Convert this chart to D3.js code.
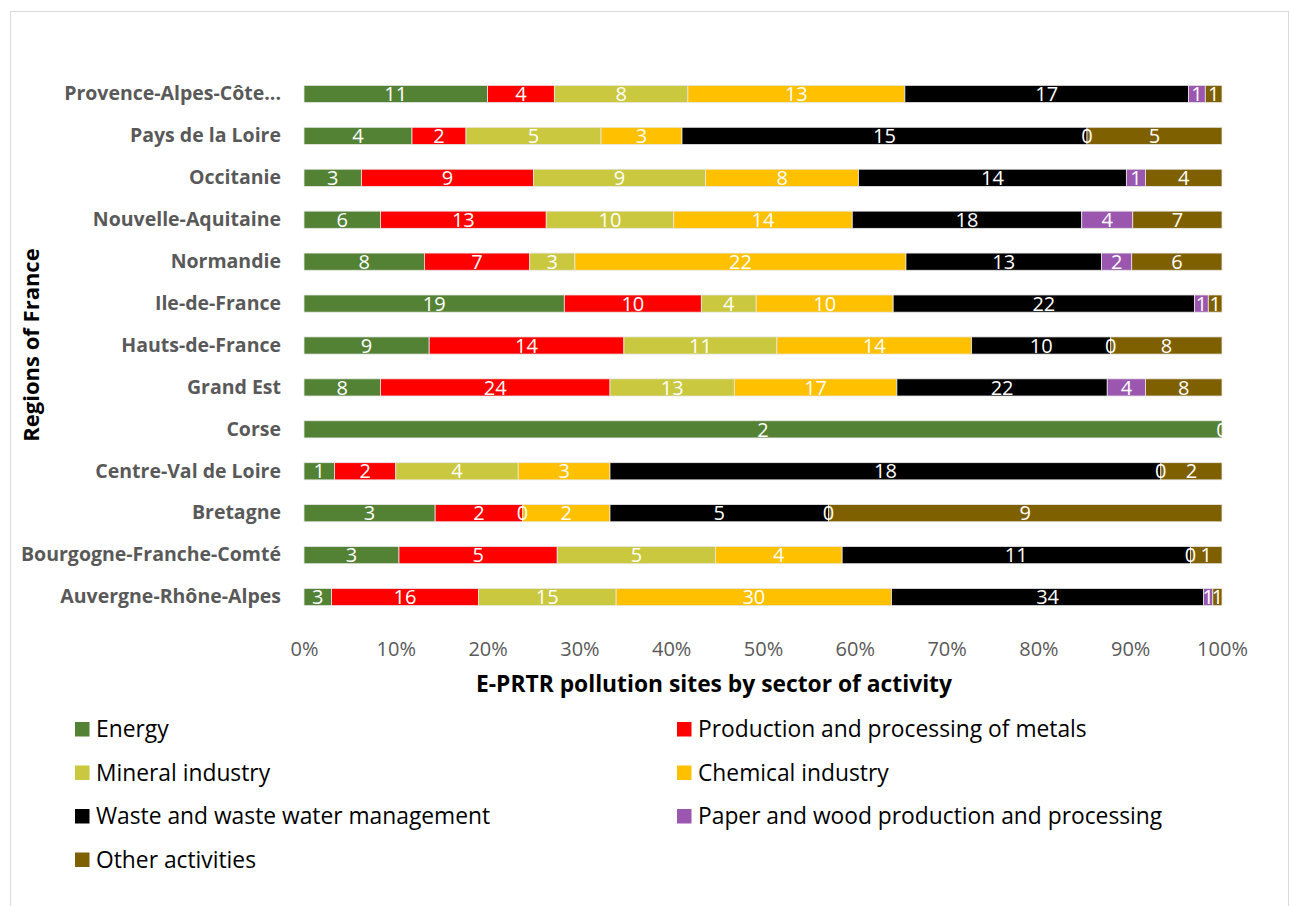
<!DOCTYPE html>
<html>
<head>
<meta charset="utf-8">
<script src="https://cdn.jsdelivr.net/npm/d3@7"></script>
<style>
  body { margin: 0; background: #fff; }
  svg text { font-family: "Open Sans", sans-serif; }
</style>
</head>
<body>
<svg width="1290" height="906"></svg>
<script>
const regions = ['Provence-Alpes-Côte...', 'Pays de la Loire', 'Occitanie', 'Nouvelle-Aquitaine',
  'Normandie', 'Ile-de-France', 'Hauts-de-France', 'Grand Est', 'Corse', 'Centre-Val de Loire',
  'Bretagne', 'Bourgogne-Franche-Comté', 'Auvergne-Rhône-Alpes'];

const sectors = ['Energy', 'Production and processing of metals', 'Mineral industry',
  'Chemical industry', 'Waste and waste water management',
  'Paper and wood production and processing', 'Other activities'];

const colors = ['#548235', '#ff0000', '#c9c83e', '#ffc000', '#000000', '#9b57b0', '#7f6000'];

// one array per sector, in the order of regions (null = no label shown)
const energy   = [11, 4, 3, 6, 8, 19, 9, 8, 2, 1, 3, 3, 3];
const metals   = [4, 2, 9, 13, 7, 10, 14, 24, null, 2, 2, 5, 16];
const mineral  = [8, 5, 9, 10, 3, 4, 11, 13, null, 4, 0, 5, 15];
const chemical = [13, 3, 8, 14, 22, 10, 14, 17, null, 3, 2, 4, 30];
const waste    = [17, 15, 14, 18, 13, 22, 10, 22, null, 18, 5, 11, 34];
const paper    = [1, 0, 1, 4, 2, 1, 0, 4, null, 0, 0, 0, 1];
const other    = [1, 5, 4, 7, 6, 1, 8, 8, 0, 2, 9, 1, 1];

const xTicks = [0, 0.1, 0.2, 0.3, 0.4, 0.5, 0.6, 0.7, 0.8, 0.9, 1];

const series = [energy, metals, mineral, chemical, waste, paper, other];

const svg = d3.select('svg');

// chart frame
svg.append('rect')
  .attr('x', 10.5).attr('y', 11.5)
  .attr('width', 1278).attr('height', 910)
  .attr('fill', 'none').attr('stroke', '#d9d9d9');

const x = d3.scaleLinear().domain([0, 1]).range([304, 1222]);
const y = d3.scaleBand().domain(regions).range([73, 618]).paddingInner(0.59).paddingOuter(0.295);

// stack rows into percentage segments
const rows = regions.map((r, i) => {
  const vals = series.map(s => s[i]);
  const total = d3.sum(vals, v => v || 0);
  let acc = 0;
  return vals.map((v, k) => {
    const x0 = acc / total;
    acc += (v || 0);
    return { region: r, k, value: v, x0, x1: acc / total };
  });
});
const segs = rows.flat();

svg.append('g')
  .selectAll('rect')
  .data(segs.filter(d => d.value))
  .enter().append('rect')
  .attr('x', d => x(d.x0))
  .attr('y', d => y(d.region))
  .attr('width', d => x(d.x1) - x(d.x0))
  .attr('height', y.bandwidth())
  .attr('fill', d => colors[d.k])
  .attr('stroke', '#e8e8e8')
  .attr('stroke-width', 0.8);

svg.append('g')
  .selectAll('text')
  .data(segs.filter(d => d.value !== null))
  .enter().append('text')
  .attr('x', d => x((d.x0 + d.x1) / 2))
  .attr('y', d => y(d.region) + y.bandwidth() / 2)
  .attr('dy', '0.36em')
  .attr('text-anchor', 'middle')
  .attr('fill', '#fff')
  .attr('font-size', 20)
  .text(d => d.value);

// x axis labels
const xAxis = svg.append('g')
  .attr('transform', 'translate(0,639)')
  .call(d3.axisBottom(x).tickValues(xTicks).tickFormat(d3.format('.0%')).tickSize(0));
xAxis.select('.domain').remove();
xAxis.selectAll('text')
  .attr('font-size', 20)
  .attr('fill', '#595959')
  .attr('font-family', '"Open Sans", sans-serif');

// y axis labels
const yAxis = svg.append('g')
  .attr('transform', 'translate(281,0)')
  .call(d3.axisLeft(y).tickSize(0).tickPadding(0));
yAxis.select('.domain').remove();
yAxis.selectAll('text')
  .attr('font-size', 19.5)
  .attr('font-weight', 'bold')
  .attr('fill', '#595959')
  .attr('font-family', '"Open Sans", sans-serif');

// axis titles
svg.append('text')
  .attr('x', 714).attr('y', 692)
  .attr('text-anchor', 'middle')
  .attr('font-size', 22.8)
  .attr('font-weight', 'bold')
  .attr('fill', '#000')
  .text('E-PRTR pollution sites by sector of activity');

svg.append('text')
  .attr('transform', 'translate(39,345) rotate(-90)')
  .attr('text-anchor', 'middle')
  .attr('font-size', 22)
  .attr('font-weight', 'bold')
  .attr('fill', '#000')
  .text('Regions of France');

// legend
const legend = svg.append('g')
  .selectAll('g')
  .data(sectors)
  .enter().append('g')
  .attr('transform', (d, i) => `translate(${i % 2 === 0 ? 75 : 677},${729 + Math.floor(i / 2) * 43.5})`);

legend.append('rect')
  .attr('x', 0).attr('y', -7)
  .attr('width', 14.5).attr('height', 14.5)
  .attr('fill', (d, i) => colors[i]);

legend.append('text')
  .attr('x', 21).attr('dy', '0.36em')
  .attr('font-size', 22.8)
  .attr('fill', '#000')
  .text(d => d);
</script>
</body>
</html>
